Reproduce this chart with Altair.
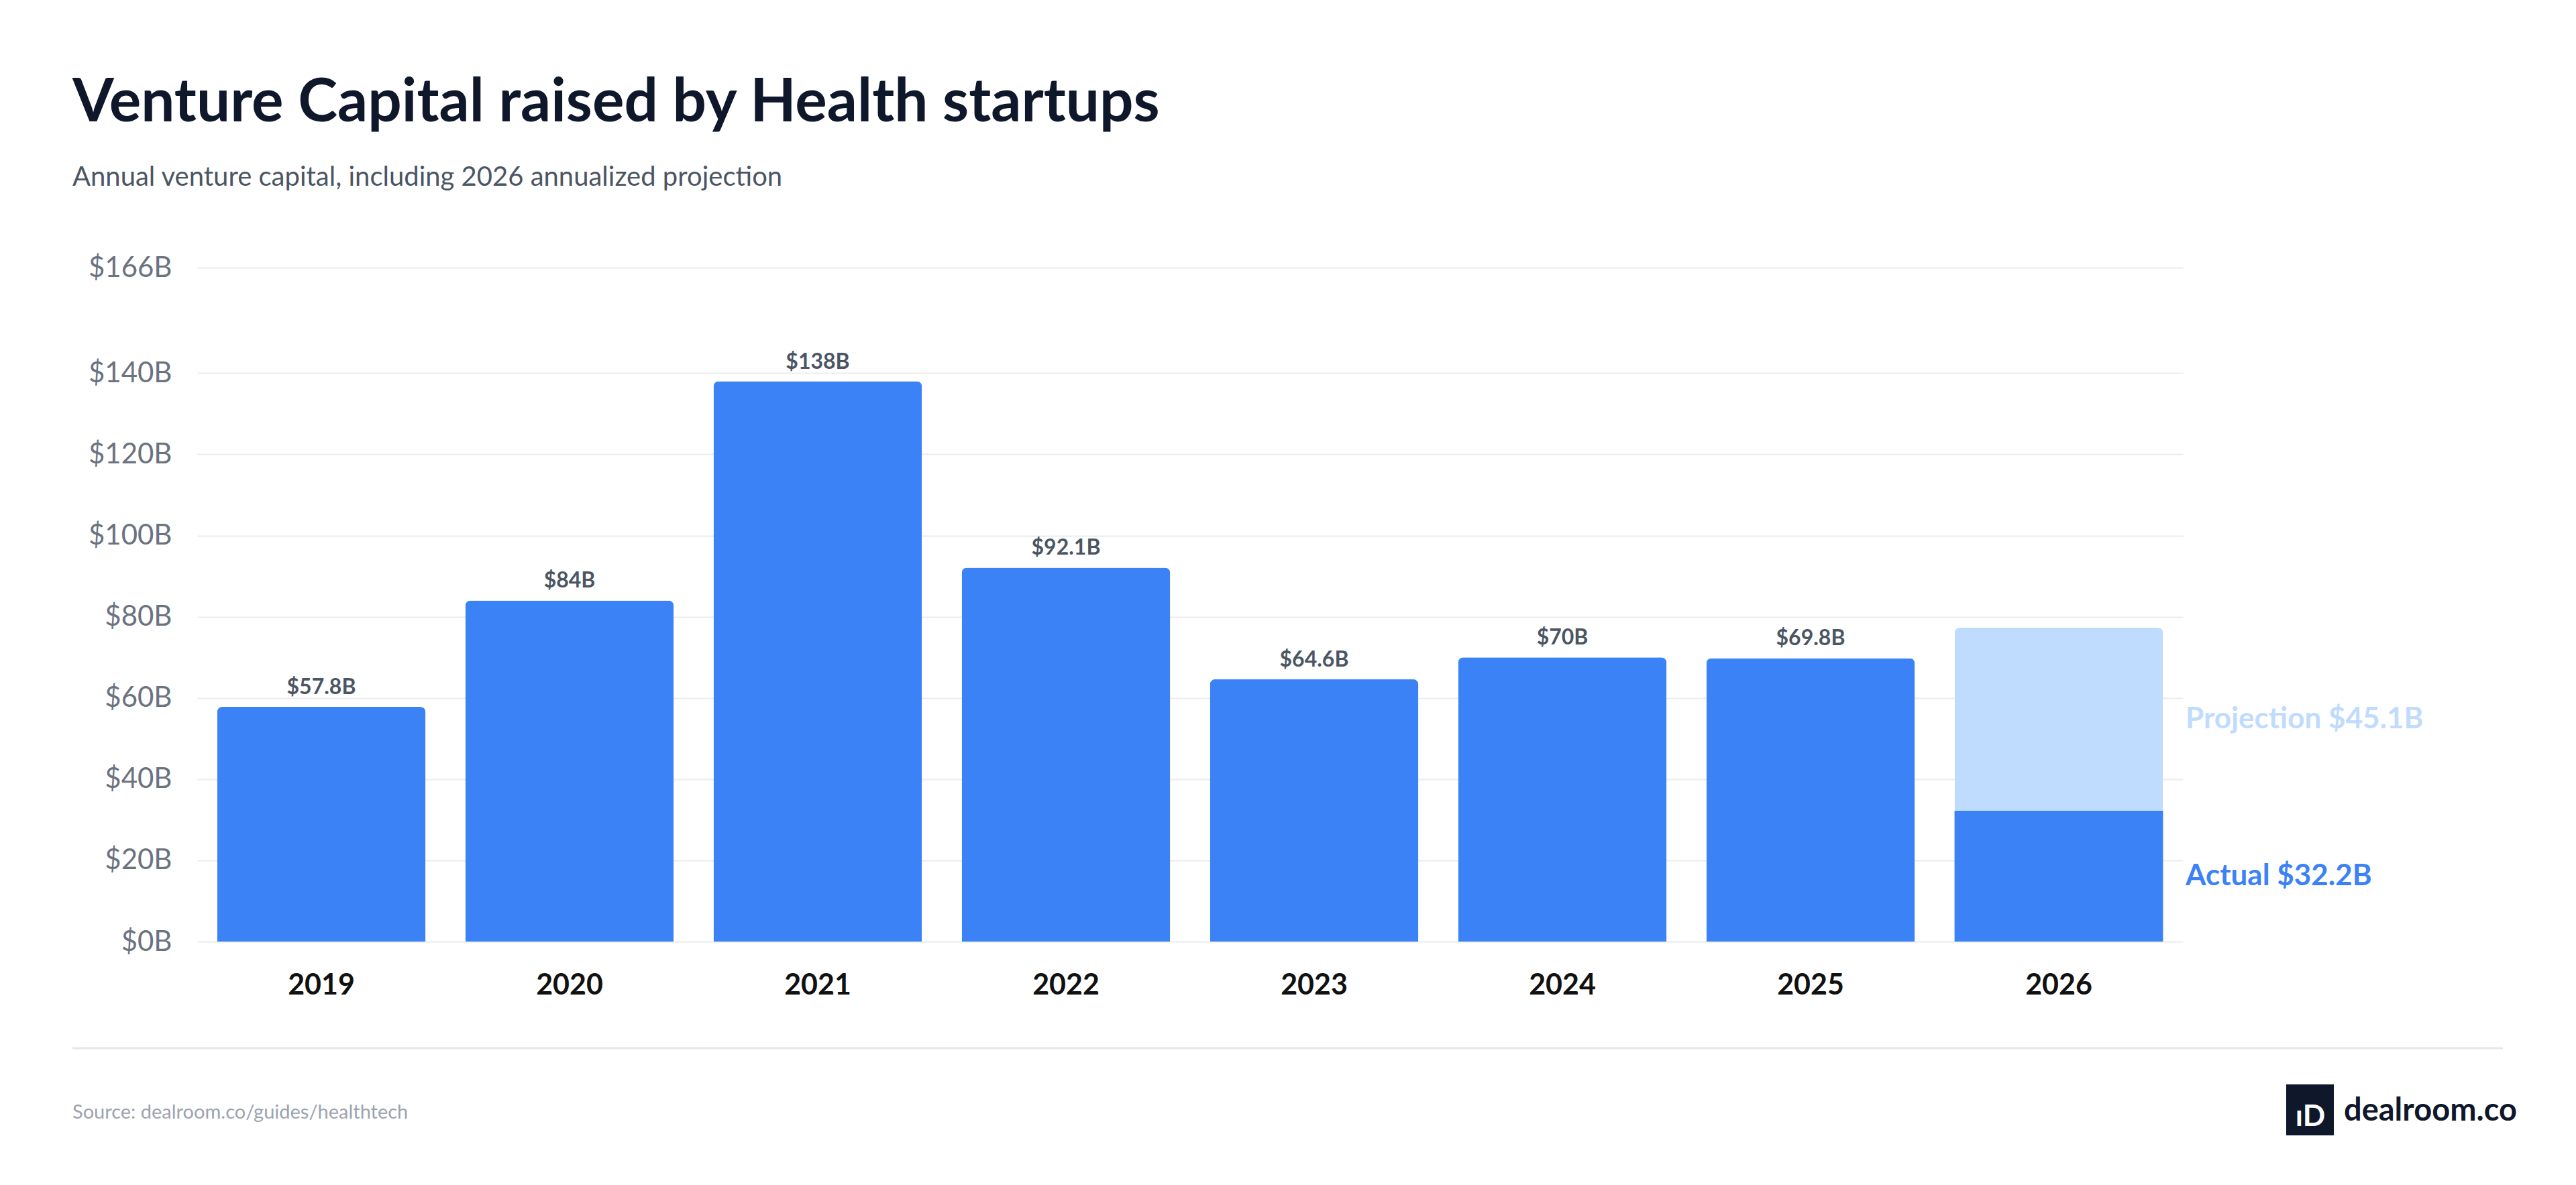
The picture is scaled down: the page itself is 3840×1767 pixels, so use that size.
import pandas as pd
import altair as alt

years = ["2019", "2020", "2021", "2022", "2023", "2024", "2025", "2026"]
totals = [57.8, 84.0, 138.0, 92.1, 64.6, 70.0, 69.8, 77.3]
labels = ["$57.8B", "$84B", "$138B", "$92.1B", "$64.6B", "$70B", "$69.8B", ""]
actual_2026 = 32.2
projection_2026 = 45.1
y_ticks = [0, 20, 40, 60, 80, 100, 120, 140, 166]

BLUE = "#3b82f6"
LIGHT = "#bfdbfe"
FONT = "Lato"
W, H = 2960, 1005

df = pd.DataFrame({"year": years, "total": totals, "label": labels})
df["kind"] = ["actual"] * 7 + ["projection"]

side = pd.DataFrame({
    "year": ["2026", "2026"],
    "mid": [actual_2026 / 2, actual_2026 + projection_2026 / 2],
    "text": [f"Actual ${actual_2026}B", f"Projection ${projection_2026}B"],
    "kind": ["actual", "projection"],
})

x = alt.X("year:O", title=None, sort=years,
          scale=alt.Scale(paddingInner=0.16, paddingOuter=0.08),
          axis=alt.Axis(labelAngle=0, labelFontSize=43, labelFontWeight="bold",
                        labelColor="#111111", labelFont=FONT, labelPadding=44,
                        ticks=False, domain=False, grid=False))
y = alt.Y("total:Q", title=None, scale=alt.Scale(domain=[0, 166], nice=False),
          axis=alt.Axis(values=y_ticks, labelExpr="'$' + datum.value + 'B'",
                        labelFontSize=42, labelColor="#6b7280", labelFont=FONT,
                        labelPadding=38, ticks=False, domain=False,
                        gridColor="#ececec", gridWidth=2))
color = alt.Color("kind:N", scale=alt.Scale(domain=["actual", "projection"],
                                             range=[BLUE, LIGHT]), legend=None)

bars = alt.Chart(df).mark_bar(cornerRadiusTopLeft=8, cornerRadiusTopRight=8).encode(
    x=x, y=y, color=color)

actual_bar = alt.Chart(pd.DataFrame({"year": ["2026"], "total": [actual_2026]})).mark_bar(
    color=BLUE).encode(x=alt.X("year:O", sort=years), y="total:Q")

values = alt.Chart(df).mark_text(baseline="bottom", dy=-12, fontSize=32,
                                 fontWeight="bold", color="#4b5563", font=FONT).encode(
    x=alt.X("year:O", sort=years), y="total:Q", text="label:N")

side_text = alt.Chart(side).mark_text(align="left", baseline="middle", fontSize=44,
                                      fontWeight="bold", font=FONT).encode(
    x=alt.value(W + 4), y=alt.Y("mid:Q"), text="text:N",
    color=alt.Color("kind:N", scale=alt.Scale(domain=["actual", "projection"],
                                               range=[BLUE, LIGHT]), legend=None))

one = pd.DataFrame({"a": [0]})


def txt(s, xv, yv, size, col, weight="normal", align="left"):
    return alt.Chart(one).mark_text(text=s, align=align, baseline="alphabetic",
                                    fontSize=size, color=col, fontWeight=weight,
                                    font=FONT).encode(x=alt.value(xv), y=alt.value(yv))


title = txt("Venture Capital raised by Health startups", -186, -218, 89, "#0f172a", "bold")
subtitle = txt("Annual venture capital, including 2026 annualized projection", -186, -122, 40, "#4b5563")
source = txt("Source: dealroom.co/guides/healthtech", -186, 1269, 29, "#9ca3af")
brand = txt("dealroom.co", 3200, 1272, 47, "#0f172a", "bold")
logo_mark = txt("ıD", 3150, 1280, 44, "#ffffff", "bold", "center")

sep = alt.Chart(one).mark_rule(color="#e5e7eb", strokeWidth=3).encode(
    x=alt.value(-186), x2=alt.value(3437), y=alt.value(1164))
logo_box = alt.Chart(one).mark_rect(color="#0f172a").encode(
    x=alt.value(3114), x2=alt.value(3185), y=alt.value(1218), y2=alt.value(1294))

chart = alt.layer(
    bars, actual_bar, values, side_text, title, subtitle, sep, source, logo_box, logo_mark, brand
).properties(
    width=W, height=H,
    autosize=alt.AutoSizeParams(type="none"),
    padding={"left": 286, "top": 391, "right": 578, "bottom": 355},
).configure(background="white").configure_view(stroke=None, strokeWidth=0)

chart.save("out.html", embed_options={"renderer": "svg", "actions": False})
